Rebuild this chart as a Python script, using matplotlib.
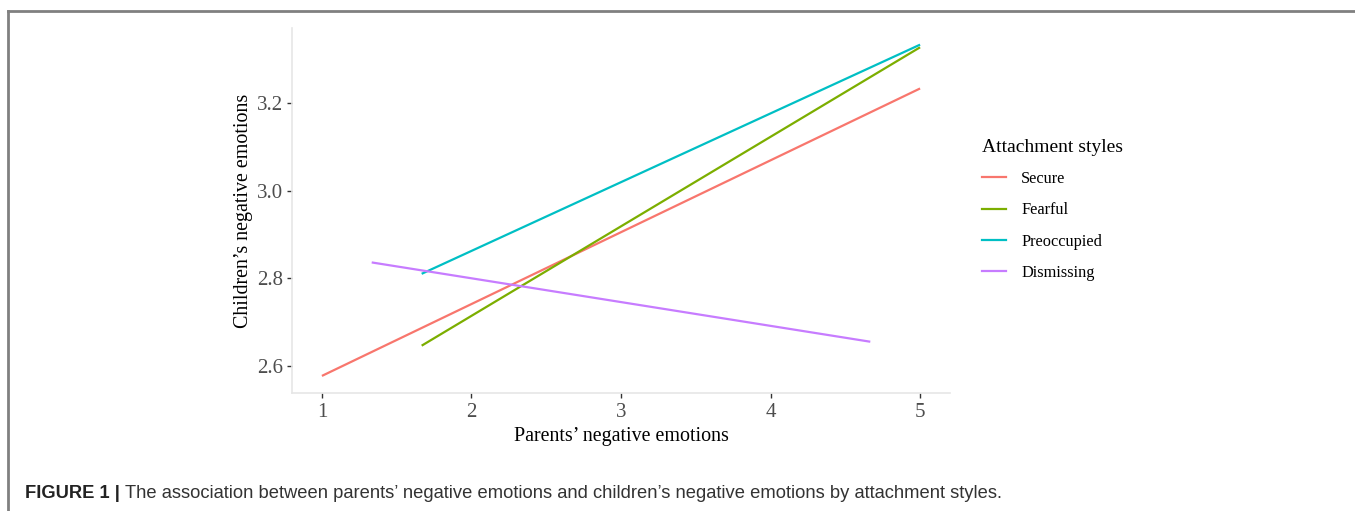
import matplotlib.pyplot as plt
from matplotlib.lines import Line2D

# Fitted lines: parents' negative emotions (x) vs children's negative emotions (y)
styles = ['Secure', 'Fearful', 'Preoccupied', 'Dismissing']
colors = ['#F8766D', '#7CAE00', '#00BFC4', '#C77CFF']
x_start = [1.0, 1.667, 1.667, 1.333]
x_end = [5.0, 5.0, 5.0, 4.667]
y_start = [2.577, 2.646, 2.810, 2.836]
y_end = [3.233, 3.327, 3.333, 2.655]

xticks = [1, 2, 3, 4, 5]
yticks = [2.6, 2.8, 3.0, 3.2]

W, H = 1355, 511
fig = plt.figure(figsize=(W / 100, H / 100), dpi=100)
serif = 'Liberation Serif'

# plot panel in pixel coords
L, R, T, B = 292, 950, 28, 393
ax = fig.add_axes([L / W, (H - B) / H, (R - L) / W, (B - T) / H])

for name, c, x0, x1, y0, y1 in zip(styles, colors, x_start, x_end, y_start, y_end):
    ax.plot([x0, x1], [y0, y1], color=c, lw=1.6, label=name, solid_capstyle='butt')

ax.set_xlim(0.8, 5.2)
ax.set_ylim(2.538, 3.371)
ax.set_xticks(xticks)
ax.set_yticks(yticks)
ax.set_xticklabels([str(v) for v in xticks], fontfamily=serif, fontsize=15, color='#4d4d4d')
ax.set_yticklabels(['%.1f' % v for v in yticks], fontfamily=serif, fontsize=15, color='#4d4d4d')
ax.tick_params(length=3.5, width=1, color='#333333', pad=3)
ax.tick_params(axis='x', pad=4)

for s in ['top', 'right']:
    ax.spines[s].set_visible(False)
for s in ['left', 'bottom']:
    ax.spines[s].set_color('#e6e6e6')
    ax.spines[s].set_linewidth(1.2)

ax.set_xlabel('Parents\u2019 negative emotions', fontfamily=serif, fontsize=14.4, labelpad=3)
ax.set_ylabel('Children\u2019s negative emotions', fontfamily=serif, fontsize=14.4, labelpad=3)

handles = [Line2D([0], [0], color=c, lw=1.6) for c in colors]
leg = fig.legend(handles, styles, loc='upper left', bbox_to_anchor=(967 / W, 1 - 124 / H),
                 frameon=False, title='Attachment styles',
                 prop={'family': serif, 'size': 11.8}, handlelength=1.5,
                 handletextpad=0.9, labelspacing=0.93)
leg.get_title().set_fontfamily(serif)
leg.get_title().set_fontsize(14)
leg._legend_box.align = 'left'
leg._legend_box.sep = 11

# outer frame (top and left edges only)
fig.add_artist(Line2D([8 / W, 1.0], [1 - 11 / H, 1 - 11 / H], color='#808080', lw=2))
fig.add_artist(Line2D([8 / W, 8 / W], [0, 1 - 11 / H], color='#808080', lw=2))

# caption
cap_y = 1 - 494 / H
t = fig.text(25 / W, cap_y, 'FIGURE 1 |', fontfamily='Liberation Sans', fontweight='bold',
             fontsize=13.2, color='#222222', va='center')
fig.canvas.draw()
bb = t.get_window_extent()
fig.text((bb.x1 + 5) / W, cap_y,
         'The association between parents\u2019 negative emotions and children\u2019s negative emotions by attachment styles.',
         fontfamily='Liberation Sans', fontsize=13.2, color='#333333', va='center')

fig.savefig('out.png', dpi=100)
